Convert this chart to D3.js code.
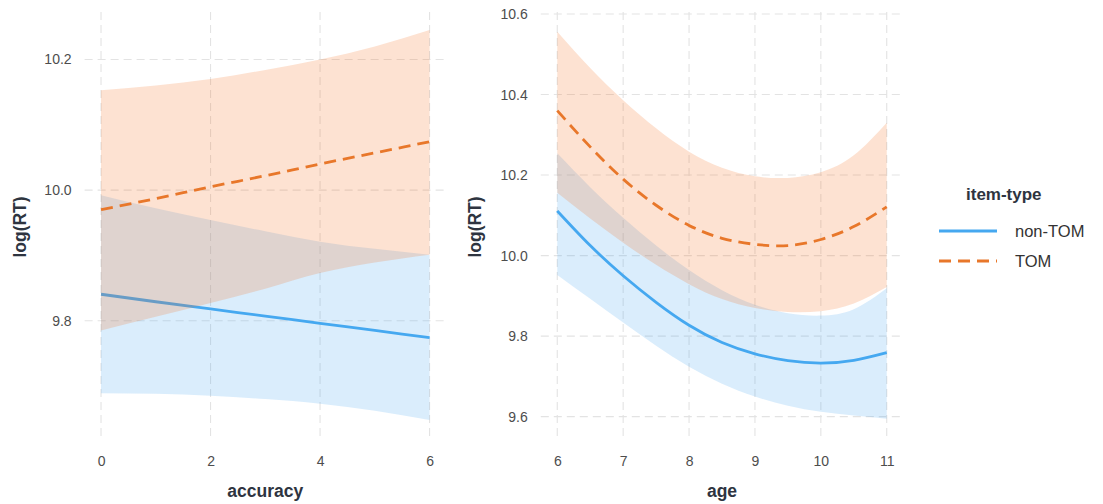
<!DOCTYPE html>
<html>
<head>
<meta charset="utf-8">
<script src="https://cdn.jsdelivr.net/npm/d3@7"></script>
<style>
  html, body { margin: 0; padding: 0; background: #fff; }
  svg { display: block; font-family: "Liberation Sans", Arial, Helvetica, sans-serif; }
</style>
</head>
<body>
<svg id="chart" width="1103" height="504"></svg>
<script>
// ---------- data: accuracy panel ----------
const accuracy = [0, 1, 2, 3, 4, 5, 6];
const nonTomAccFit  = [9.8405, 9.829, 9.818, 9.807, 9.796, 9.785, 9.774];
const nonTomAccLow  = [9.689, 9.688, 9.685, 9.680, 9.673, 9.662, 9.648];
const nonTomAccHigh = [9.992, 9.972, 9.954, 9.937, 9.921, 9.910, 9.901];
const tomAccFit  = [9.970, 9.987, 10.005, 10.022, 10.040, 10.057, 10.074];
const tomAccLow  = [9.785, 9.806, 9.827, 9.849, 9.873, 9.889, 9.901];
const tomAccHigh = [10.153, 10.160, 10.170, 10.184, 10.200, 10.220, 10.245];

// ---------- data: age panel ----------
const age = [6, 6.5, 7, 7.5, 8, 8.5, 9, 9.5, 10, 10.5, 11];
const nonTomAgeFit  = [10.111, 10.025, 9.950, 9.884, 9.827, 9.784, 9.756, 9.739, 9.733, 9.740, 9.759];
const nonTomAgeLow  = [9.952, 9.893, 9.834, 9.776, 9.724, 9.682, 9.650, 9.627, 9.612, 9.603, 9.595];
const nonTomAgeHigh = [10.254, 10.170, 10.094, 10.025, 9.964, 9.914, 9.878, 9.857, 9.851, 9.867, 9.919];
const tomAgeFit  = [10.360, 10.270, 10.190, 10.125, 10.075, 10.043, 10.028, 10.025, 10.040, 10.072, 10.121];
const tomAgeLow  = [10.156, 10.092, 10.032, 9.977, 9.929, 9.892, 9.870, 9.860, 9.862, 9.881, 9.922];
const tomAgeHigh = [10.556, 10.466, 10.386, 10.316, 10.258, 10.218, 10.197, 10.193, 10.207, 10.249, 10.330];

// ---------- ticks & labels ----------
const accXTicks = [0, 2, 4, 6];
const accYTicks = [9.8, 10.0, 10.2];
const ageXTicks = [6, 7, 8, 9, 10, 11];
const ageYTicks = [9.6, 9.8, 10.0, 10.2, 10.4, 10.6];
const groups = ["non-TOM", "TOM"];
const legendTitle = "item-type";
const yTitle = "log(RT)";

// ---------- style ----------
const colBlue = "#45a8f0", fillBlue = "#46a5f0";
const colOrange = "#e8772a", fillOrange = "#f56e1e";
const ribbonAlpha = 0.2;
const gridCol = "#e3e3e3";

const svg = d3.select("#chart");

function panel(opts) {
  const { xs, series, xDomain, xRange, yDomain, yRange, xTicks, yTicks, xTitle, yTitleX, curve } = opts;
  const x = d3.scaleLinear().domain(xDomain).range(xRange);
  const y = d3.scaleLinear().domain(yDomain).range(yRange);
  const g = svg.append("g");

  // grid
  g.append("g").selectAll("line.v").data(xTicks).join("line")
    .attr("x1", d => x(d)).attr("x2", d => x(d))
    .attr("y1", yRange[1]).attr("y2", yRange[0])
    .attr("stroke", gridCol).attr("stroke-width", 1.1).attr("stroke-dasharray", "8,5");
  g.append("g").selectAll("line.h").data(yTicks).join("line")
    .attr("x1", xRange[0]).attr("x2", xRange[1])
    .attr("y1", d => y(d)).attr("y2", d => y(d))
    .attr("stroke", gridCol).attr("stroke-width", 1.1).attr("stroke-dasharray", "8,5");

  const area = d3.area().x((d, i) => x(xs[i])).y0(d => y(d[0])).y1(d => y(d[1])).curve(curve);
  const line = d3.line().x((d, i) => x(xs[i])).y(d => y(d)).curve(curve);

  series.forEach(s => {
    g.append("path")
      .datum(s.low.map((v, i) => [v, s.high[i]]))
      .attr("d", area)
      .attr("fill", s.fill).attr("fill-opacity", ribbonAlpha);
    g.append("path")
      .datum(s.fit)
      .attr("d", line)
      .attr("fill", "none").attr("stroke", s.color).attr("stroke-width", 2.8)
      .attr("stroke-dasharray", s.dash || null);
  });

  // axes
  const ax = g.append("g").attr("transform", `translate(0,${yRange[0]})`)
    .call(d3.axisBottom(x).tickValues(xTicks).tickSize(0).tickPadding(16).tickFormat(d3.format("d")));
  const ay = g.append("g").attr("transform", `translate(${xRange[0]},0)`)
    .call(d3.axisLeft(y).tickValues(yTicks).tickSize(0).tickPadding(13).tickFormat(d3.format(".1f")));
  [ax, ay].forEach(a => {
    a.select(".domain").remove();
    a.selectAll("text").attr("font-size", 14).attr("fill", "#4d4d4d")
      .attr("font-family", "'Liberation Sans', Arial, sans-serif");
  });

  g.append("text")
    .attr("x", (xRange[0] + xRange[1]) / 2).attr("y", 497)
    .attr("text-anchor", "middle").attr("font-size", 17.5).attr("font-weight", "bold")
    .attr("fill", "#2e3440").text(xTitle);
  g.append("text")
    .attr("transform", `translate(${yTitleX},227) rotate(-90)`)
    .attr("text-anchor", "middle").attr("font-size", 17.5).attr("font-weight", "bold")
    .attr("fill", "#2e3440").text(yTitle);
}

panel({
  xs: accuracy,
  series: [
    { fit: nonTomAccFit, low: nonTomAccLow, high: nonTomAccHigh, color: colBlue, fill: fillBlue },
    { fit: tomAccFit, low: tomAccLow, high: tomAccHigh, color: colOrange, fill: fillOrange, dash: "12,7" }
  ],
  xDomain: [-0.3, 6.3], xRange: [84.6, 446.0],
  yDomain: [9.6173, 10.2727], yRange: [440, 12],
  xTicks: accXTicks, yTicks: accYTicks,
  xTitle: "accuracy", yTitleX: 26,
  curve: d3.curveMonotoneX
});

panel({
  xs: age,
  series: [
    { fit: nonTomAgeFit, low: nonTomAgeLow, high: nonTomAgeHigh, color: colBlue, fill: fillBlue },
    { fit: tomAgeFit, low: tomAgeLow, high: tomAgeHigh, color: colOrange, fill: fillOrange, dash: "12,7" }
  ],
  xDomain: [5.75, 11.25], xRange: [540.8, 903.2],
  yDomain: [9.542, 10.605], yRange: [440, 12],
  xTicks: ageXTicks, yTicks: ageYTicks,
  xTitle: "age", yTitleX: 481,
  curve: d3.curveNatural
});

// legend
const lg = svg.append("g");
lg.append("text").attr("x", 966).attr("y", 200)
  .attr("font-size", 17).attr("font-weight", "bold").attr("fill", "#2e3440").text(legendTitle);
const legendColors = [colBlue, colOrange];
const legendDash = [null, "12,7"];
groups.forEach((name, i) => {
  const yy = 231 + i * 30;
  lg.append("line").attr("x1", 939).attr("x2", 997).attr("y1", yy).attr("y2", yy)
    .attr("stroke", legendColors[i]).attr("stroke-width", 2.8)
    .attr("stroke-dasharray", legendDash[i]);
  lg.append("text").attr("x", 1015).attr("y", yy).attr("dy", "0.35em")
    .attr("font-size", 16.5).attr("fill", "#333").text(name);
});
</script>
</body>
</html>
